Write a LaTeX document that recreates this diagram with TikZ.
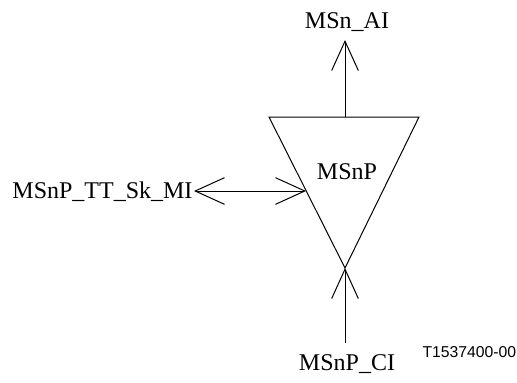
\documentclass[tikz,border=0pt]{standalone}
\usepackage{fontspec}
\setmainfont{Liberation Serif}
\newfontfamily\labsans{Liberation Sans}
\usetikzlibrary{arrows.meta}
\begin{document}
\begin{tikzpicture}[x=0.75pt,y=-0.75pt,line width=0.75pt,
  lbl/.style={inner sep=0pt,font=\fontsize{18}{20}\selectfont},
  barb/.style={-{Straight Barb[length=22pt,width=20pt,line width=0.75pt]}},
  dbarb/.style={{Straight Barb[length=22pt,width=20pt,line width=0.75pt]}-{Straight Barb[length=22pt,width=20pt,line width=0.75pt]}}]
\useasboundingbox (0,0) rectangle (517,382);
% triangle
\coordinate (tl) at (269,117);
\coordinate (tr) at (419,117);
\coordinate (ap) at (345,268);
\draw (tl) -- (tr) -- (ap) -- cycle;
\node[lbl,anchor=base] (p) at (347,179) {MSnP};
% top
\coordinate (topmid) at (345,117);
\coordinate (aitip) at (345,40);
\node[lbl,anchor=base] (ai) at (347,28) {MSn\_AI};
\draw[barb] (topmid) -- (aitip);
% left
\coordinate (leftin) at (306,191);
\coordinate (mitip) at (194,191);
\node[lbl,anchor=base east] (mi) at (193,198) {MSnP\_TT\_Sk\_MI};
\draw[dbarb] (mitip) -- (leftin);
% bottom
\coordinate (citail) at (345,343);
\node[lbl,anchor=base] (ci) at (347,370) {MSnP\_CI};
\draw[barb] (citail) -- (ap);
% figure id
\node[inner sep=0pt,anchor=base west,font=\labsans\fontsize{11.8}{14}\selectfont] (id) at (422,357) {T1537400-00};
\end{tikzpicture}
\end{document}
